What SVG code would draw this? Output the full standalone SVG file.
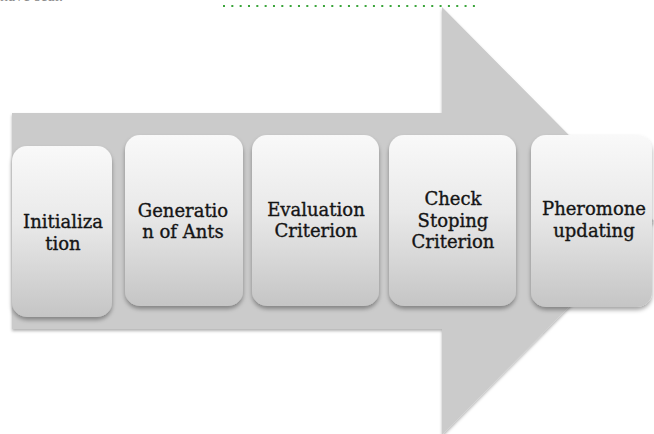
<svg xmlns="http://www.w3.org/2000/svg" width="654" height="434" viewBox="0 0 654 434">
  <defs>
    <linearGradient id="boxFill" x1="0" y1="0" x2="0" y2="1">
      <stop offset="0" stop-color="#f9f9f9"/>
      <stop offset="0.45" stop-color="#e9e9e9"/>
      <stop offset="1" stop-color="#c5c5c5"/>
    </linearGradient>
    <filter id="boxShadow" x="-10%" y="-10%" width="120%" height="125%">
      <feDropShadow dx="0" dy="3" stdDeviation="2" flood-color="#000" flood-opacity="0.35"/>
    </filter>
    <filter id="arrowShadow" x="-5%" y="-5%" width="110%" height="110%">
      <feDropShadow dx="0" dy="2" stdDeviation="1.5" flood-color="#000" flood-opacity="0.3"/>
    </filter>
  </defs>
  <style>
    .box { fill: url(#boxFill); filter: url(#boxShadow); }
    .label { font-family: "DejaVu Serif", "Liberation Serif", serif; font-size: 18px; fill: #151515; stroke: #151515; stroke-width: 0.35px; text-anchor: middle; }
    .frag { font-family: "Liberation Serif", serif; font-size: 16px; fill: #8a8a8a; }
  </style>

  <rect width="654" height="434" fill="#ffffff"/>

  <!-- line of text above the figure, mostly outside the page -->
  <text class="frag" x="0" y="1">have seal.</text>
  <line x1="223" y1="6" x2="476" y2="6" stroke="#3aa53a" stroke-width="2" stroke-dasharray="2 6.33"/>

  <!-- large background arrow -->
  <g id="arrow">
    <path d="M12 113 H442 V7 L654 221 L442 435 V329 H12 Z" fill="#cbcbcb" filter="url(#arrowShadow)"/>
  </g>

  <g id="connectors"/>

  <g id="node-initialization">
    <rect class="box" x="12" y="146" width="100" height="171" rx="15"/>
    <text class="label" x="63" y="228">Initializa</text>
    <text class="label" x="63" y="249.5">tion</text>
  </g>

  <g id="node-generation">
    <rect class="box" x="125" y="135" width="118" height="171" rx="15"/>
    <text class="label" x="183" y="217">Generatio</text>
    <text class="label" x="183" y="238">n of Ants</text>
  </g>

  <g id="node-evaluation">
    <rect class="box" x="252" y="135" width="127" height="171" rx="15"/>
    <text class="label" x="316" y="216">Evaluation</text>
    <text class="label" x="316" y="236.5">Criterion</text>
  </g>

  <g id="node-check">
    <rect class="box" x="389" y="135" width="127" height="171" rx="15"/>
    <text class="label" x="453" y="205">Check</text>
    <text class="label" x="453" y="226.5">Stoping</text>
    <text class="label" x="453" y="248">Criterion</text>
  </g>

  <g id="node-pheromone">
    <rect class="box" x="531" y="135" width="121" height="172" rx="15"/>
    <text class="label" x="594" y="215">Pheromone</text>
    <text class="label" x="594" y="236.5">updating</text>
  </g>
</svg>
